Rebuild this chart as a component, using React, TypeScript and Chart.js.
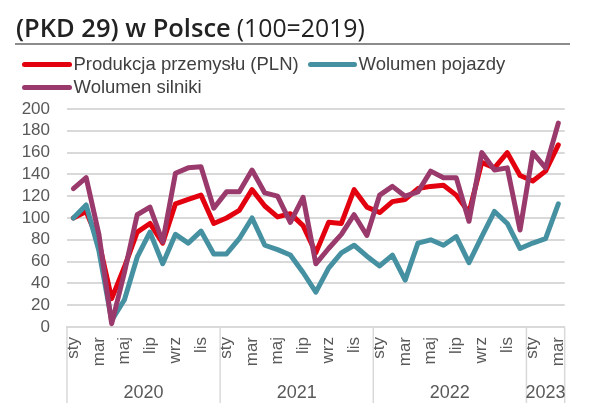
import React, { useEffect, useRef } from 'react';
import Chart from 'chart.js/auto';

const monthNames = ['sty', 'lut', 'mar', 'kwi', 'maj', 'cze', 'lip', 'sie', 'wrz', 'paź', 'lis', 'gru'];
const years = ['2020', '2021', '2022', '2023'];
const monthsPerYear = [12, 12, 12, 3];
const categories: string[] = years.flatMap((y, k) => monthNames.slice(0, monthsPerYear[k]));

const produkcja = [100, 106, 78, 26, 55, 87, 95, 77, 113, 117, 121, 95, 100, 107, 126, 111, 101, 104, 93, 68, 96, 95, 126, 110, 105, 115, 117, 127, 129, 130, 121, 105, 151, 146, 160, 139, 134, 143, 167];
const pojazdy = [100, 112, 70, 6, 25, 64, 87, 58, 85, 77, 88, 67, 67, 81, 100, 75, 71, 66, 50, 32, 54, 68, 75, 65, 56, 66, 43, 77, 80, 75, 83, 59, 83, 106, 95, 72, 77, 81, 113];
const silniki = [127, 137, 85, 3, 50, 103, 110, 78, 141, 146, 147, 109, 124, 124, 144, 123, 120, 96, 119, 58, 72, 85, 103, 84, 121, 129, 120, 124, 143, 137, 137, 97, 160, 144, 146, 89, 160, 146, 187];

const seriesNames = ['Produkcja przemysłu (PLN)', 'Wolumen pojazdy', 'Wolumen silniki'];
const seriesColors = ['#e3000f', '#4691a1', '#9a3a6c'];
const yMin = 0;
const yMax = 200;
const yStep = 20;

const FONT = "'Liberation Sans', Arial, sans-serif";
const GREY = '#d9d9d9';
const TICK = '#595959';

const yearAxisPlugin = {
  id: 'yearAxis',
  afterDraw(chart: any) {
    const xs = chart.scales.x;
    const ctx = chart.ctx;
    const bottom = chart.chartArea.bottom;
    const half = (xs.getPixelForValue(1) - xs.getPixelForValue(0)) / 2;
    ctx.save();
    ctx.strokeStyle = GREY;
    ctx.lineWidth = 1.5;
    ctx.fillStyle = TICK;
    ctx.font = `18px ${FONT}`;
    ctx.textAlign = 'center';
    ctx.textBaseline = 'middle';
    let start = 0;
    years.forEach((y, k) => {
      const n = monthsPerYear[k];
      const left = xs.getPixelForValue(start) - half;
      const right = xs.getPixelForValue(start + n - 1) + half;
      ctx.beginPath();
      ctx.moveTo(left, bottom);
      ctx.lineTo(left, bottom + 76);
      ctx.stroke();
      if (k === years.length - 1) {
        ctx.beginPath();
        ctx.moveTo(right, bottom);
        ctx.lineTo(right, bottom + 76);
        ctx.stroke();
      }
      ctx.fillText(y, (left + right) / 2, bottom + 66);
      start += n;
    });
    ctx.restore();
  },
};

export default function App() {
  const ref = useRef<HTMLCanvasElement>(null);
  useEffect(() => {
    if (!ref.current) return;
    const data = [produkcja, pojazdy, silniki];
    const chart = new Chart(ref.current, {
      type: 'line',
      data: {
        labels: categories,
        datasets: data.map((d, i) => ({
          label: seriesNames[i],
          data: d,
          borderColor: seriesColors[i],
          backgroundColor: seriesColors[i],
          borderWidth: 5,
          pointRadius: 0,
          tension: 0,
          borderCapStyle: 'round' as const,
          borderJoinStyle: 'round' as const,
          order: 2 - i,
        })),
      },
      options: {
        animation: false,
        responsive: false,
        maintainAspectRatio: false,
        layout: { padding: { top: 109, right: 22, left: 0, bottom: 0 } },
        plugins: { legend: { display: false }, tooltip: { enabled: false }, title: { display: false } },
        scales: {
          x: {
            type: 'category',
            offset: true,
            grid: { display: false, drawTicks: false },
            border: { display: true, color: GREY, width: 2 },
            ticks: {
              autoSkip: false,
              maxRotation: 90,
              minRotation: 90,
              padding: 10,
              color: TICK,
              font: { family: FONT, size: 17 },
              callback: (_v: any, i: number) => (i % 2 === 0 ? categories[i] : ''),
            },
            afterFit: (s: any) => { s.height = 83; },
          },
          y: {
            min: yMin,
            max: yMax,
            grid: { color: GREY, lineWidth: 2, drawTicks: false },
            border: { display: false },
            ticks: {
              stepSize: yStep,
              autoSkip: false,
              maxTicksLimit: 20,
              padding: 17,
              color: TICK,
              font: { family: FONT, size: 17, lineHeight: 1 },
            },
            afterFit: (s: any) => { s.width = 67; },
          },
        },
      },
      plugins: [yearAxisPlugin],
    });
    return () => chart.destroy();
  }, []);

  const legendText: React.CSSProperties = {
    position: 'absolute',
    fontFamily: FONT,
    fontSize: '18.5px',
    lineHeight: '20px',
    color: '#404040',
    whiteSpace: 'nowrap',
  };
  const line = (left: number, cy: number, w: number, color: string): React.CSSProperties => ({
    position: 'absolute',
    left,
    top: cy - 2.5,
    width: w,
    height: 5,
    borderRadius: 3,
    background: color,
  });

  return (
    <div style={{ position: 'absolute', left: 0, top: 0, width: 589, height: 410, background: '#fff', overflow: 'hidden' }}>
      <canvas ref={ref} width={589} height={410} style={{ position: 'absolute', left: 0, top: 0, width: 589, height: 410 }} />
      <div style={{ position: 'absolute', left: 16, top: 11.5, fontFamily: "'Open Sans', sans-serif", lineHeight: '30px', color: '#222', whiteSpace: 'nowrap' }}>
        <span style={{ fontWeight: 600, fontSize: '25.5px' }}>(PKD 29) w Polsce</span>
        <span style={{ fontWeight: 400, fontSize: '24.8px', marginLeft: 6 }}>(100=2019)</span>
      </div>
      <div style={{ position: 'absolute', left: 15, top: 42.5, width: 555, height: 2, background: '#8c8c8c' }} />
      <div style={line(22, 64.3, 50, seriesColors[0])} />
      <div style={{ ...legendText, left: 73.5, top: 54.2 }}>{seriesNames[0]}</div>
      <div style={line(307.5, 64.3, 49, seriesColors[1])} />
      <div style={{ ...legendText, left: 358.5, top: 54.2 }}>{seriesNames[1]}</div>
      <div style={line(22, 87.3, 50, seriesColors[2])} />
      <div style={{ ...legendText, left: 73.5, top: 76.9 }}>{seriesNames[2]}</div>
    </div>
  );
}
